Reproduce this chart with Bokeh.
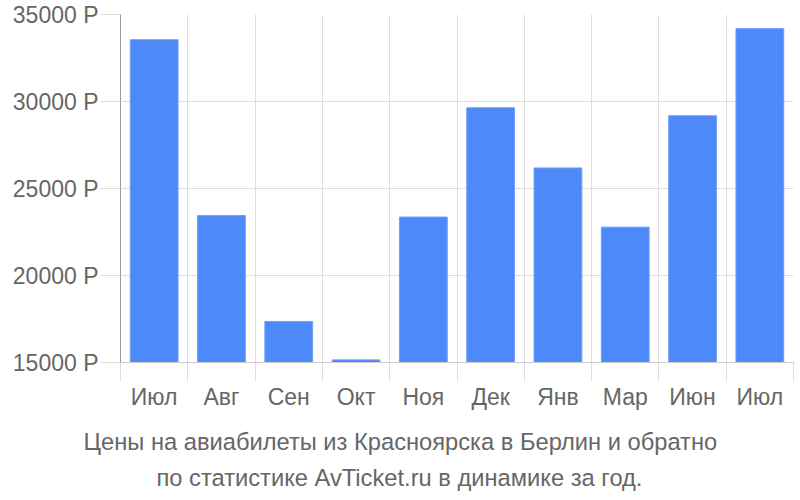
from bokeh.plotting import figure
from bokeh.models import FixedTicker, Range1d, Title, ColumnDataSource
from bokeh.embed import file_html
from bokeh.resources import INLINE

months = ["Июл", "Авг", "Сен", "Окт", "Ноя", "Дек", "Янв", "Мар", "Июн", "Июл"]
prices = [33550, 23450, 17360, 15150, 23360, 29640, 26180, 22780, 29180, 34190]
y_ticks = [15000, 20000, 25000, 30000, 35000]
currency = "Р"
title_lines = ["Цены на авиабилеты из Красноярска в Берлин и обратно",
               "по статистике AvTicket.ru в динамике за год."]

FONT = "Liberation Sans"
TXT = "#666666"
n = len(months)
centers = [i + 0.5 for i in range(n)]
bounds = list(range(n + 1))

p = figure(width=800, height=493, x_range=Range1d(0, n), y_range=Range1d(y_ticks[0], y_ticks[-1]),
           output_backend="svg", toolbar_location=None,
           min_border_left=120, min_border_right=7, min_border_top=14, min_border_bottom=131)
p.outline_line_color = None
p.background_fill_color = "white"

src = ColumnDataSource(dict(x=centers, top=prices))
p.vbar(x="x", top="top", bottom=y_ticks[0], width=0.71, source=src,
       fill_color="#4d89f9", line_color="#6e9ffb", line_width=1)

# x axis
p.xaxis.ticker = FixedTicker(ticks=centers, minor_ticks=bounds)
p.xaxis.major_label_overrides = {c: m for c, m in zip(centers, months)}
p.xaxis.major_tick_out = 0
p.xaxis.major_tick_in = 0
p.xaxis.minor_tick_out = 19
p.xaxis.minor_tick_in = 0
p.xaxis.minor_tick_line_color = "#dddddd"
p.xaxis.axis_line_color = "#cccccc"
p.xaxis.major_label_standoff = 2
p.xaxis.major_label_text_font = FONT
p.xaxis.major_label_text_font_size = "23px"
p.xaxis.major_label_text_color = TXT

p.xgrid.ticker = FixedTicker(ticks=bounds)
p.xgrid.grid_line_color = "#dddddd"

# y axis
p.yaxis.ticker = FixedTicker(ticks=y_ticks)
p.yaxis.major_label_overrides = {v: f"{v} {currency}" for v in y_ticks}
p.yaxis.major_tick_out = 20
p.yaxis.major_tick_in = 0
p.yaxis.minor_tick_out = 0
p.yaxis.minor_tick_in = 0
p.yaxis.major_tick_line_color = "#dddddd"
p.yaxis.axis_line_color = "#999999"
p.yaxis.major_label_standoff = 2
p.yaxis.major_label_text_font = FONT
p.yaxis.major_label_text_font_size = "23px"
p.yaxis.major_label_text_color = TXT
p.ygrid.grid_line_color = "#dddddd"

# caption lines, left-aligned with offsets so that they sit centred on the page
for line, off, so in zip(title_lines, [-37, 36], [28, -12]):
    t = Title(text=line, align="left", offset=off, text_font=FONT, text_font_size="23.7px",
              text_color=TXT, text_font_style="normal", standoff=so)
    p.add_layout(t, "below")

open("out.html", "w").write(file_html(p, INLINE))
